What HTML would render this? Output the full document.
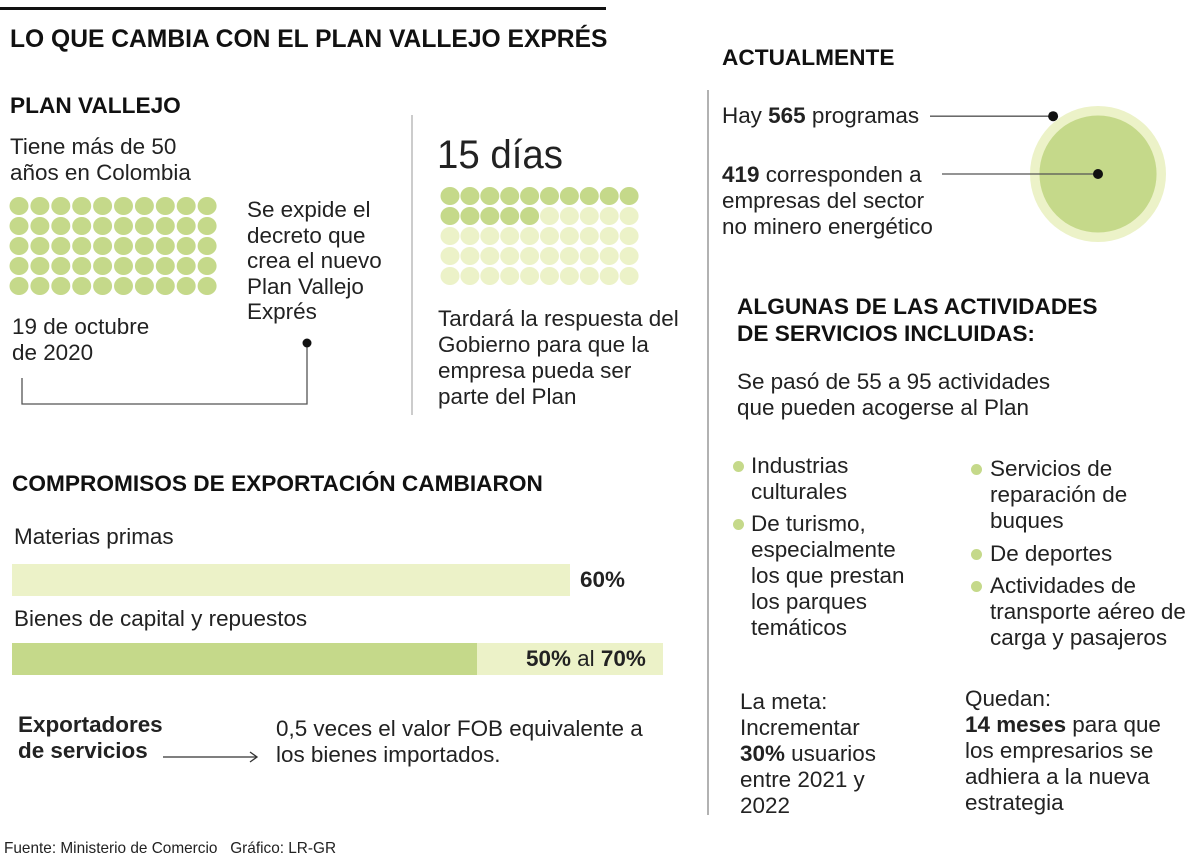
<!DOCTYPE html>
<html><head><meta charset="utf-8"><style>
html,body{margin:0;padding:0;background:#fff;}
body{width:1200px;height:861px;position:relative;overflow:hidden;font-family:"Liberation Sans",sans-serif;color:#222;}
.t{position:absolute;white-space:nowrap;font-size:22px;line-height:26px;transform-origin:0 0;transform:scaleX(1.02);}
.b{font-weight:bold;}
.h{position:absolute;white-space:nowrap;font-weight:bold;font-size:22px;line-height:27px;transform-origin:0 0;transform:scaleX(1.03);color:#111;}
svg{position:absolute;left:0;top:0;}
.dot{position:absolute;width:11px;height:11px;border-radius:50%;background:#c5d98a;}
</style></head><body>
<svg id="g" width="1200" height="861">
<rect x="0" y="7" width="606" height="3" fill="#111"/>
<line x1="412" y1="115" x2="412" y2="415" stroke="#bbb" stroke-width="1.5"/>
<line x1="708" y1="90" x2="708" y2="815" stroke="#999" stroke-width="1.5"/>
<polyline points="22,378 22,404 307,404 307,343" fill="none" stroke="#555" stroke-width="1.3"/>
<circle cx="307" cy="343" r="4.5" fill="#111"/>
<line x1="163" y1="757" x2="256" y2="757" stroke="#333" stroke-width="1.3"/>
<polyline points="250,752 257,757 250,762" fill="none" stroke="#333" stroke-width="1.3"/>
</svg>

<div class="h" style="left:10px;top:26px;font-size:25px;transform:scaleX(0.985);">LO QUE CAMBIA CON EL PLAN VALLEJO EXPRÉS</div>
<div class="h" style="left:10px;top:92px;">PLAN VALLEJO</div>
<div class="t" style="left:10px;top:134px;">Tiene más de 50<br>años en Colombia</div>
<div class="t" style="left:247px;top:197px;line-height:25.5px;">Se expide el<br>decreto que<br>crea el nuevo<br>Plan Vallejo<br>Exprés</div>
<div class="t" style="left:12px;top:314px;">19 de octubre<br>de 2020</div>
<div class="t" style="left:437px;top:133px;font-size:40px;line-height:44px;font-weight:300;transform:scaleX(0.96);">15 días</div>
<div class="t" style="left:438px;top:306px;">Tardará la respuesta del<br>Gobierno para que la<br>empresa pueda ser<br>parte del Plan</div>

<div class="h" style="left:722px;top:44px;">ACTUALMENTE</div>
<div class="t" style="left:722px;top:103px;">Hay <b>565</b> programas</div>
<div class="t" style="left:722px;top:162px;"><b>419</b> corresponden a<br>empresas del sector<br>no minero energético</div>

<div class="h" style="left:737px;top:293px;">ALGUNAS DE LAS ACTIVIDADES<br>DE SERVICIOS INCLUIDAS:</div>
<div class="t" style="left:737px;top:369px;">Se pasó de 55 a 95 actividades<br>que pueden acogerse al Plan</div>
<div class="dot" style="left:733px;top:461px;"></div>
<div class="t" style="left:751px;top:453px;">Industrias<br>culturales</div>
<div class="dot" style="left:733px;top:519px;"></div>
<div class="t" style="left:751px;top:511px;">De turismo,<br>especialmente<br>los que prestan<br>los parques<br>temáticos</div>
<div class="dot" style="left:971px;top:464px;"></div>
<div class="t" style="left:990px;top:456px;">Servicios de<br>reparación de<br>buques</div>
<div class="dot" style="left:971px;top:549px;"></div>
<div class="t" style="left:990px;top:541px;">De deportes</div>
<div class="dot" style="left:971px;top:581px;"></div>
<div class="t" style="left:990px;top:573px;">Actividades de<br>transporte aéreo de<br>carga y pasajeros</div>
<div class="t" style="left:740px;top:689px;">La meta:<br>Incrementar<br><b>30%</b> usuarios<br>entre 2021 y<br>2022</div>
<div class="t" style="left:965px;top:686px;">Quedan:<br><b>14 meses</b> para que<br>los empresarios se<br>adhiera a la nueva<br>estrategia</div>

<div class="h" style="left:12px;top:470px;">COMPROMISOS DE EXPORTACIÓN CAMBIARON</div>
<div class="t" style="left:14px;top:524px;">Materias primas</div>
<div class="t b" style="left:580px;top:567px;">60%</div>
<div class="t" style="left:14px;top:606px;">Bienes de capital y repuestos</div>
<div class="t" style="left:526px;top:646px;"><b>50%</b> al <b>70%</b></div>
<div class="t" style="left:18px;top:712px;font-weight:600;">Exportadores<br>de servicios</div>
<div class="t" style="left:276px;top:716px;">0,5 veces el valor FOB equivalente a<br>los bienes importados.</div>
<div class="t" style="left:4px;top:840px;font-size:16px;line-height:18px;transform:scaleX(0.96);">Fuente: Ministerio de Comercio &nbsp;&nbsp;Gráfico: LR-GR</div>

<script>
const yearsDots = [50, 50];        // filled, total
const daysDots = [15, 50];         // filled, total
const programs = [565, 419];       // total programs, non-mining
const rawMaterials = [60];         // %
const capitalGoods = [50, 70];     // % from, to
const DARK = '#c5d98a', LIGHT = '#ecf2c8';
const NS = 'http://www.w3.org/2000/svg';
const svg = document.getElementById('g');
function mk(tag, a) { const e = document.createElementNS(NS, tag); for (const k in a) e.setAttribute(k, a[k]); svg.appendChild(e); return e; }

function grid(counts, x0, y0, dx, dy, name) {
  for (let i = 0; i < counts[1]; i++) {
    const c = i % 10, r = Math.floor(i / 10);
    const e = mk('ellipse', { cx: x0 + c * dx, cy: y0 + r * dy, rx: 9.5, ry: 9, fill: i < counts[0] ? DARK : LIGHT });
    
    
  }
}
grid(yearsDots, 19, 206, 20.9, 20, 'year-dot');
grid(daysDots, 450, 196, 19.9, 20, 'day-dot');

const R = 68, cx = 1098, cy = 174;
const rOuter = R, rInner = R * Math.sqrt(programs[1] / programs[0]);
let c1 = mk('circle', { cx: cx, cy: cy, r: rOuter, fill: LIGHT });


let c2 = mk('circle', { cx: cx, cy: cy, r: rInner, fill: DARK });


const px = cx - rOuter * 0.66, py = cy - rOuter * 0.85;
let l1 = mk('line', { x1: 930, y1: py, x2: px, y2: py, stroke: '#555', 'stroke-width': 1.3 });


let d1 = mk('circle', { cx: px, cy: py, r: 5, fill: '#111' });


let l2 = mk('line', { x1: 942, y1: cy, x2: cx, y2: cy, stroke: '#555', 'stroke-width': 1.3 });


let d2 = mk('circle', { cx: cx, cy: cy, r: 5, fill: '#111' });



const bx0 = 12, pxPer = 9.3;
const xs = v => bx0 + v * pxPer;
let b1 = mk('rect', { x: bx0, y: 564, width: xs(rawMaterials[0]) - bx0, height: 32, fill: LIGHT });


let b2 = mk('rect', { x: bx0, y: 643, width: xs(capitalGoods[1]) - bx0, height: 32, fill: LIGHT });


let b3 = mk('rect', { x: bx0, y: 643, width: xs(capitalGoods[0]) - bx0, height: 32, fill: DARK });


</script>
</body></html>
